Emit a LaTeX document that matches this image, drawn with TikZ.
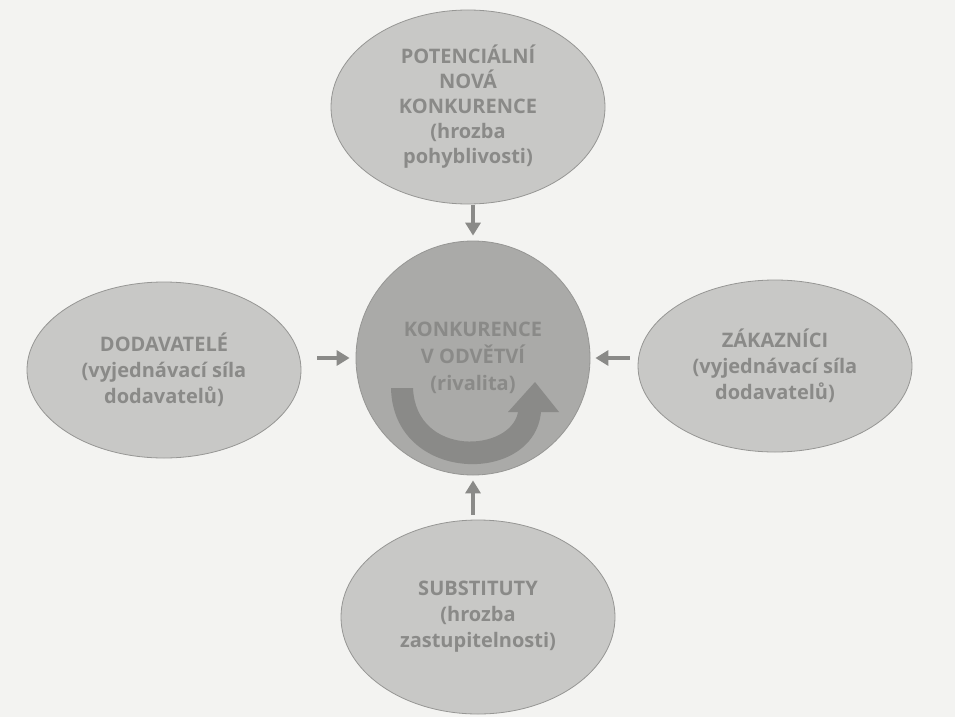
\documentclass[tikz,border=0pt]{standalone}
\usepackage{fontspec}
\setmainfont{Open Sans}
\usetikzlibrary{shapes.geometric,arrows.meta}
\definecolor{paper}{RGB}{243,243,241}
\definecolor{oval}{RGB}{200,200,198}
\definecolor{core}{RGB}{170,170,168}
\definecolor{ink}{RGB}{138,138,136}
\definecolor{rim}{RGB}{150,150,148}
\begin{document}
\begin{tikzpicture}[x=1pt, y=-1pt,
    force/.style = {draw=rim, line width=0.8pt, fill=oval, ellipse, inner sep=0pt,
                    minimum width=274pt, minimum height=184pt, text=ink,
                    font=\fontsize{20}{26}\selectfont\bfseries, align=center},
    main/.style = {force, circle, fill=core, minimum size=234pt},
    link/.style = {draw=ink, line width=4pt, -{Triangle[length=13pt,width=15pt]}}]
    \fill[paper] (0,0) rectangle (955,717);
    \node[main] (kon) at (473,358) {};
    % rivalita
    \fill[ink] (391,388) .. controls (393,484) and (534,486) .. (541,412)
        -- (559,412) -- (535,382) -- (508,412) -- (518,412)
        .. controls (511,452) and (416,458) .. (413,388) -- cycle;
    \node[text=ink, font=\fontsize{20}{27}\selectfont\bfseries, align=center] (kontext) at (kon.center) {KONKURENCE\\V ODVĚTVÍ\\(rivalita)};
    \node[force, minimum height=194pt, font=\fontsize{20}{25}\selectfont\bfseries] (pot) at (468,107) {POTENCIÁLNÍ\\NOVÁ\\KONKURENCE\\(hrozba\\pohyblivosti)};
    \node[force, minimum height=176pt] (dod) at (164,370) {DODAVATELÉ\\(vyjednávací síla\\dodavatelů)};
    \node[force, minimum height=172pt] (zak) at (775,366) {ZÁKAZNÍCI\\(vyjednávací síla\\dodavatelů)};
    \node[force, minimum height=194pt] (sub) at (478,617) {SUBSTITUTY\\(hrozba\\zastupitelnosti)};
    \draw[link, shorten <=1pt, shorten >=5pt] (pot.south -| kon.north) -- (kon.north);
    \draw[link, shorten <=16pt, shorten >=6pt] (kon.west -| dod.east) -- (kon.west);
    \draw[link, shorten <=8pt, shorten >=5pt] (kon.east -| zak.west) -- (kon.east);
    \draw[link, shorten <=5pt, shorten >=5pt] (sub.north -| kon.south) -- (kon.south);
\end{tikzpicture}
\end{document}
